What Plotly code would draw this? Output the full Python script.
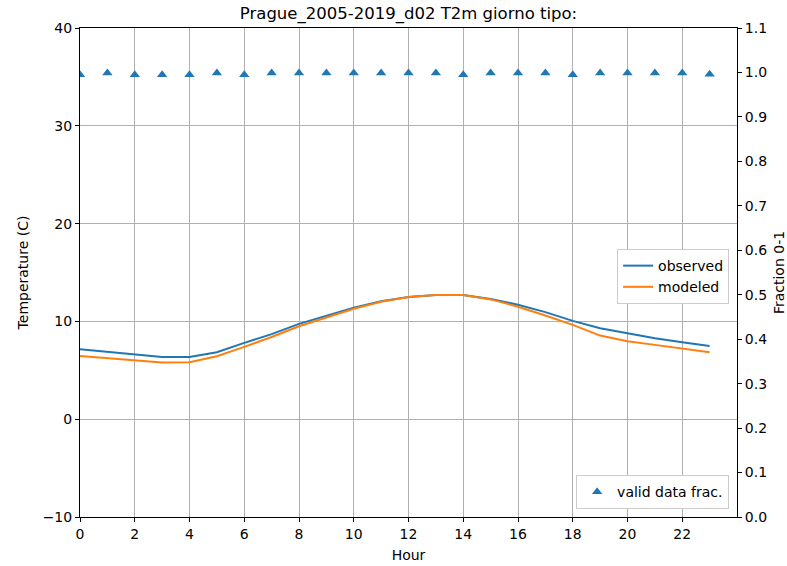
import plotly.graph_objects as go

hours = list(range(24))
observed = [7.16, 6.9, 6.6, 6.37, 6.37, 6.85, 7.8, 8.7, 9.75, 10.6, 11.4, 12.05,
            12.5, 12.7, 12.7, 12.3, 11.7, 10.95, 10.05, 9.3, 8.76, 8.28, 7.87, 7.48]
modeled = [6.47, 6.25, 6.0, 5.8, 5.83, 6.44, 7.4, 8.4, 9.5, 10.4, 11.3, 12.0,
           12.5, 12.7, 12.7, 12.25, 11.5, 10.6, 9.65, 8.55, 7.97, 7.6, 7.2, 6.85]
valid_frac = [0.995, 0.999, 0.995, 0.995, 0.995, 0.999, 0.995, 0.999, 0.999, 0.999, 0.999, 0.999,
              0.999, 0.999, 0.995, 0.999, 0.999, 0.999, 0.995, 0.999, 0.999, 0.999, 0.999, 0.996]
x_ticks = list(range(0, 24, 2))

font = "DejaVu Sans"
fig = go.Figure()
fig.add_trace(go.Scatter(x=hours, y=observed, mode="lines", name="observed",
                         line=dict(color="#1f77b4", width=2), legend="legend"))
fig.add_trace(go.Scatter(x=hours, y=modeled, mode="lines", name="modeled",
                         line=dict(color="#ff7f0e", width=2), legend="legend"))
fig.add_trace(go.Scatter(x=hours, y=valid_frac, mode="markers", name="valid data frac.",
                         marker=dict(symbol="triangle-up", size=9, color="#1f77b4"),
                         yaxis="y2", legend="legend2"))

title_font = dict(family=font, size=14, color="black")
fig.update_layout(
    width=787, height=566,
    margin=dict(l=80, r=50, t=28, b=49, autoexpand=False),
    paper_bgcolor="white", plot_bgcolor="white",
    font=dict(family=font, size=14, color="black"),
    title=dict(text="Prague_2005-2019_d02 T2m giorno tipo:", x=(80 + 737) / 2 / 787, xanchor="center",
               y=1 - 13 / 566, yanchor="middle", font=dict(size=16.5)),
    xaxis=dict(range=[0, 24], tickvals=x_ticks, showgrid=True, gridcolor="#b0b0b0",
               gridwidth=1, showline=True, linecolor="black", linewidth=1, mirror=True,
               ticks="outside", ticklen=4, tickcolor="black", zeroline=False, automargin=False,
               title=dict(text="Hour", standoff=9, font=title_font)),
    yaxis=dict(range=[-10, 40], dtick=10, tick0=0, showgrid=True, gridcolor="#b0b0b0",
               gridwidth=1, showline=True, linecolor="black", linewidth=1,
               ticks="outside", ticklen=4, tickcolor="black", zeroline=False, automargin=False,
               title=dict(text="Temperature (C)", standoff=10, font=title_font)),
    yaxis2=dict(range=[0, 1.1], dtick=0.1, tick0=0, tickformat=".1f", overlaying="y",
                side="right", showgrid=False, showline=True, linecolor="black", linewidth=1,
                ticks="outside", ticklen=4, tickcolor="black", zeroline=False, automargin=False,
                title=dict(text="Fraction 0-1", standoff=8, font=title_font)),
    legend=dict(x=0.988, xanchor="right", y=0.548, yanchor="top", bgcolor="white",
                bordercolor="#cccccc", borderwidth=1, font=dict(size=14)),
    legend2=dict(x=0.988, xanchor="right", y=0.016, yanchor="bottom", bgcolor="white",
                 bordercolor="#cccccc", borderwidth=1, font=dict(size=14)),
)

fig.write_html("out.html")
